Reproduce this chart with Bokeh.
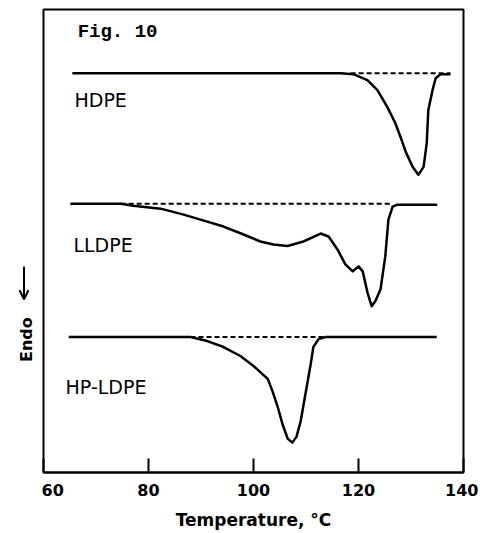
import math
from bokeh.plotting import figure
from bokeh.layouts import row
from bokeh.models import Range1d, FixedTicker, Arrow, OpenHead
from bokeh.core.properties import value
from bokeh.embed import file_html
from bokeh.resources import INLINE

# ---- data (temperature in degC, signal in arbitrary units) ----
hdpe_t = [65.5, 116.6, 119.0, 121.7, 123.6, 125.5, 127.0, 128.0, 129.0, 130.3,
          131.4, 132.4, 133.0, 133.3, 134.1, 134.7, 135.6, 137.5]
hdpe_y = [401, 401, 400, 394, 384, 367, 351, 337, 322, 307,
          299, 307, 331, 364, 384, 396, 400, 400]

lldpe_t = [65.1, 70.9, 74.7, 77.1, 82.3, 86.7, 89.9, 94.3, 98.1, 101.3,
           103.8, 106.5, 109.5, 112.8, 114.3, 116.0, 117.5, 118.9, 120.0, 120.8,
           121.7, 122.5, 123.2, 124.2, 125.1, 125.7, 126.5, 127.4, 135.0]
lldpe_y = [270, 270, 270, 268, 265, 259, 254, 247, 239, 232,
           229, 227.5, 232, 240, 237, 224, 209, 202, 207, 202,
           181, 167, 172, 184, 217, 254, 267, 269, 269]

ldpe_t = [64.8, 88.0, 91.2, 94.3, 97.5, 100.0, 102.7, 103.6, 104.6, 105.5,
          106.5, 107.4, 108.2, 109.0, 109.9, 110.9, 111.4, 112.4, 113.7, 134.9]
ldpe_y = [136, 136, 132, 126, 117, 107, 94, 82, 66, 49,
          34, 30, 36, 52, 79, 109, 126, 134, 136, 136]

# extrapolated baselines (dashed)
base_start = [118.5, 74.7, 88.0]
base_end = [137.5, 126.5, 113.7]
base_level = [401, 270, 136]

series_names = ["HDPE", "LLDPE", "HP-LDPE"]
x_ticks = [60, 80, 100, 120, 140]
y_title = "Endo"

FRAME_H = 465
TOP, BOTTOM = 9, 58
HEIGHT = FRAME_H + TOP + BOTTOM

# ---- narrow side panel holding the rotated y title and arrow ----
side = figure(width=41, height=HEIGHT, output_backend="svg", toolbar_location=None,
              x_range=Range1d(0, 41), y_range=Range1d(0, FRAME_H),
              min_border_left=0, min_border_right=0, min_border_top=TOP,
              min_border_bottom=BOTTOM)
side.axis.visible = False
side.xgrid.visible = False
side.ygrid.visible = False
side.outline_line_color = None
side.background_fill_color = "white"
side.border_fill_color = "white"
side.text(x=[25.5], y=[133.5], text=[y_title], angle=math.pi / 2,
          text_align="center", text_baseline="middle",
          text_font=value("DejaVu Sans"), text_font_style="bold",
          text_font_size="16px", text_color="black")
side.add_layout(Arrow(end=OpenHead(size=9, line_width=2, line_color="black"),
                      x_start=23.5, y_start=207, x_end=23.5, y_end=174,
                      line_width=2, line_color="black"))

# ---- main plot ----
p = figure(width=437, height=HEIGHT, output_backend="svg", toolbar_location=None,
           x_range=Range1d(60, 140), y_range=Range1d(0, FRAME_H),
           min_border_left=2, min_border_right=15, min_border_top=TOP,
           min_border_bottom=BOTTOM)
p.background_fill_color = "white"
p.border_fill_color = "white"
p.xgrid.visible = False
p.ygrid.visible = False
p.yaxis.visible = False
p.outline_line_color = "black"
p.outline_line_width = 2

ax = p.xaxis[0]
ax.ticker = FixedTicker(ticks=x_ticks)
ax.axis_line_width = 2
ax.axis_line_color = "black"
ax.major_tick_in = 14
ax.major_tick_out = 0
ax.major_tick_line_width = 2
ax.minor_tick_line_color = None
ax.major_label_text_font = "DejaVu Sans"
ax.major_label_text_font_style = "bold"
ax.major_label_text_font_size = "16px"
ax.major_label_text_color = "black"
ax.major_label_standoff = 11
ax.axis_label = "Temperature, °C"
ax.axis_label_text_font = "DejaVu Sans"
ax.axis_label_text_font_style = "bold"
ax.axis_label_text_font_size = "17px"
ax.axis_label_text_color = "black"
ax.axis_label_standoff = 11

# curves
for t, y in [(hdpe_t, hdpe_y), (lldpe_t, lldpe_y), (ldpe_t, ldpe_y)]:
    p.line(t, y, line_color="black", line_width=2.5, line_join="round")

for s, e, lv in zip(base_start, base_end, base_level):
    p.line([s, e], [lv, lv], line_color="black", line_width=2, line_dash="5 3")

# labels
label_x = [65.9, 65.7, 64.2]
label_y = [374, 228, 86]
p.text(x=label_x, y=label_y, text=series_names, text_font=value("DejaVu Sans"),
       text_font_size="19px", text_baseline="alphabetic", text_align="left",
       text_color="black")
p.text(x=[66.5], y=[442], text=["Fig. 10"], text_font=value("Liberation Mono"),
       text_font_style="bold", text_font_size="19px", text_baseline="alphabetic",
       text_color="black")

layout = row(side, p)
open("out.html", "w").write(file_html(layout, INLINE))
